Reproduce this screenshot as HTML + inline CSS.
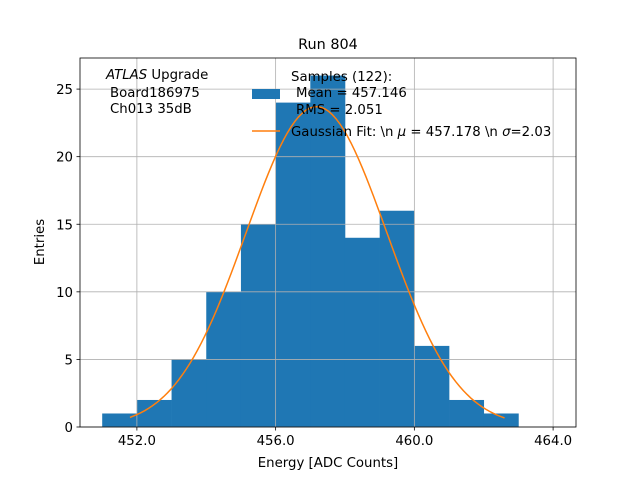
<!DOCTYPE html>
<html><head><meta charset="utf-8"><style>
body{margin:0;background:#fff}
svg{display:block;font-family:"DejaVu Sans","Liberation Sans",sans-serif}
</style></head><body>
<svg id="c" width="640" height="480">
<rect width="640" height="480" fill="#fff"/>
<text x="328" y="49" font-size="14.4" text-anchor="middle">Run 804</text>
<g id="bars"></g>
<g id="grid"></g>
<g id="fit"></g>
<rect x="80" y="58" width="496" height="369" fill="none" stroke="#000" stroke-width="0.8"/>
<g id="ticks" font-size="13.3"></g>
<text x="328" y="467" font-size="13.3" text-anchor="middle">Energy [ADC Counts]</text>
<text x="44" y="242" font-size="13.3" text-anchor="middle" transform="rotate(-90 44 242)">Entries</text>
<g font-size="13.3">
<text x="106" y="79"><tspan font-style="italic">ATLAS</tspan> Upgrade</text>
<text x="110" y="97">Board186975</text>
<text x="110" y="113">Ch013 35dB</text>
</g>
<g font-size="13.3">
<rect x="252" y="89" width="28" height="10" fill="#1f77b4"/>
<text x="291" y="81">Samples (122):</text>
<text x="296" y="97">Mean = 457.146</text>
<text x="296" y="114">RMS = 2.051</text>
<line x1="252" y1="131" x2="280" y2="131" stroke="#ff7f0e" stroke-width="1.5"/>
<text x="291" y="136">Gaussian Fit: \n <tspan font-style="italic">μ</tspan> = 457.178 \n <tspan font-style="italic">σ</tspan>=2.03</text>
</g>
</svg>
<script>
const binEdges=[451,452,453,454,455,456,457,458,459,460,461,462,463];
const counts=[1,2,5,10,15,24,26,14,16,6,2,1];
const xTicks=[452,456,460,464];
const xTickLabels=["452.0","456.0","460.0","464.0"];
const yTicks=[0,5,10,15,20,25];
const fitMu=[457.178];
const fitSigma=[2.03];
const fitAmp=[23.7];
const fitRange=[451.8,462.6];
const X0=80,X1=576,Y0=427,Y1=58,xmin=450.36,xmax=464.66,ymin=0,ymax=27.3;
const sx=v=>X0+(v-xmin)/(xmax-xmin)*(X1-X0);
const sy=v=>Y0-(v-ymin)/(ymax-ymin)*(Y0-Y1);
const NS="http://www.w3.org/2000/svg";
function mk(t,a,p){const e=document.createElementNS(NS,t);for(const k in a)e.setAttribute(k,a[k]);document.getElementById(p).appendChild(e);return e;}
xTicks.forEach((t,i)=>{
 const g=mk('line',{x1:sx(t),x2:sx(t),y1:Y1,y2:Y0,stroke:'#b0b0b0','stroke-width':0.8},'grid');
 
 
 const tk=mk('line',{x1:sx(t),x2:sx(t),y1:Y0,y2:Y0+3.5,stroke:'#000','stroke-width':0.8},'ticks');
 
 
 const l=mk('text',{x:sx(t),y:Y0+18,'text-anchor':'middle'},'ticks');l.textContent=xTickLabels[i];
 
 
});
yTicks.forEach(t=>{
 const g=mk('line',{x1:X0,x2:X1,y1:sy(t),y2:sy(t),stroke:'#b0b0b0','stroke-width':0.8},'grid');
 
 
 const tk=mk('line',{x1:X0-3.5,x2:X0,y1:sy(t),y2:sy(t),stroke:'#000','stroke-width':0.8},'ticks');
 
 
 const l=mk('text',{x:X0-7,y:sy(t)+5,'text-anchor':'end'},'ticks');l.textContent=t;
 
 
});
counts.forEach((c,i)=>{
 const r=mk('rect',{x:sx(binEdges[i]),y:sy(c),width:sx(binEdges[i+1])-sx(binEdges[i])+0.3,height:sy(0)-sy(c),fill:'#1f77b4'},'bars');
 
 
});
let pts=[];
for(let i=0;i<=100;i++){const x=fitRange[0]+(fitRange[1]-fitRange[0])*i/100;const y=fitAmp[0]*Math.exp(-((x-fitMu[0])**2)/(2*fitSigma[0]**2));pts.push(sx(x).toFixed(2)+','+sy(y).toFixed(2));}
const fl=mk('polyline',{points:pts.join(' '),fill:'none',stroke:'#ff7f0e','stroke-width':1.5},'fit');


</script>
</body></html>
